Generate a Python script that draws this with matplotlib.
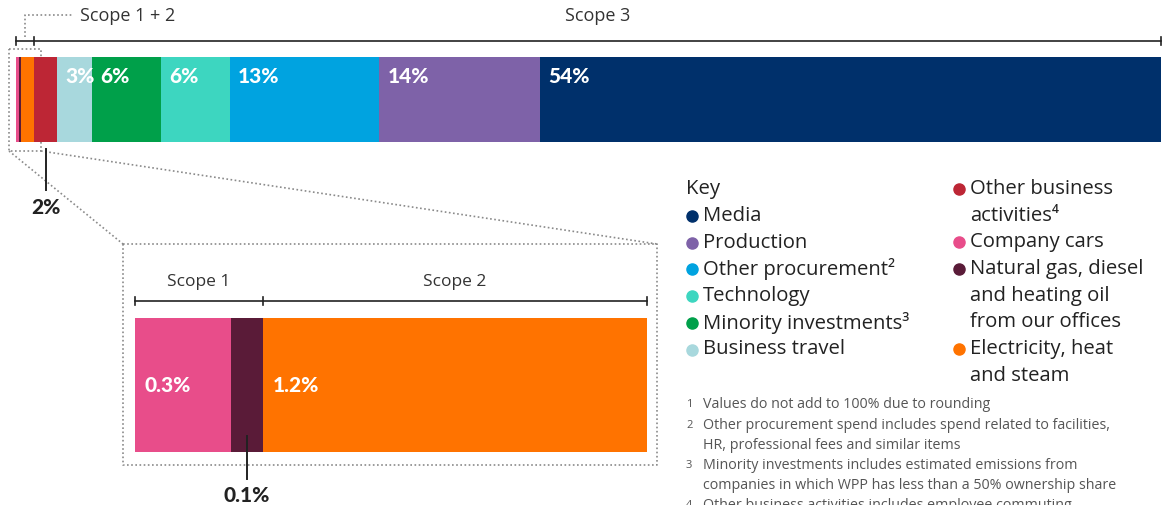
import matplotlib
matplotlib.use("Agg")
import matplotlib.pyplot as plt
import matplotlib.transforms as mtransforms
import numpy as np

plt.rcParams['font.family'] = ['Open Sans', 'DejaVu Sans']

# main bar, left to right
categories = ["Company cars", "Natural gas, diesel and heating oil from our offices",
              "Electricity, heat and steam", "Other business activities",
              "Business travel", "Minority investments", "Technology",
              "Other procurement", "Production", "Media"]
values = [0.3, 0.1, 1.2, 2, 3, 6, 6, 13, 14, 54]
labels = ["", "", "", "", "3%", "6%", "6%", "13%", "14%", "54%"]
colors = ["#E84D8A", "#5A1B38", "#FF7300", "#BD2635", "#A8D8DD",
          "#00A04A", "#3DD6C0", "#00A3E0", "#7E62A8", "#00306B"]

# zoomed scope 1 + 2 bar
zoom_cats = ["Company cars", "Natural gas", "Electricity"]
zoom_vals = [0.3, 0.1, 1.2]
zoom_labels = ["0.3%", "", "1.2%"]
zoom_colors = ["#E84D8A", "#5A1B38", "#FF7300"]

W, H = 1168, 506
fig = plt.figure(figsize=(W / 100, H / 100), dpi=100)
ink = "#222222"
dot = "#8a8a8a"
lab_font = dict(family=['Lato', 'DejaVu Sans'], fontweight="black", fontsize=15)

def px_axes(l, t, r, b):
    return fig.add_axes([l / W, 1 - b / H, (r - l) / W, (b - t) / H])

# ---- main bar
ax = px_axes(16, 58, 1161, 143)
lefts = np.concatenate([[0], np.cumsum(values)[:-1]])
ax.barh(0, values, left=lefts, color=colors, height=1, linewidth=0)
ax.set_xlim(0, sum(values))
ax.set_ylim(-0.5, 0.5)
ax.axis("off")
for l, lab in zip(lefts, labels):
    if lab:
        ax.annotate(lab, (l, 0.78), xycoords=("data", "axes fraction"),
                    xytext=(6, 0), textcoords="offset points",
                    color="white", va="center", **lab_font)

bt = mtransforms.blended_transform_factory(ax.transData, ax.transAxes)
s12 = sum(values[:3])
yb = 1.19
ax.plot([0, sum(values)], [yb, yb], color=ink, lw=1.2, transform=bt, clip_on=False)
for xv in [0, s12, sum(values)]:
    ax.plot([xv, xv], [yb - 0.05, yb + 0.05], color=ink, lw=1.2, transform=bt, clip_on=False)
ax.text(s12 + (sum(values) - s12) / 2, 1.49, "Scope 3", transform=bt,
        ha="center", va="center", fontsize=13, color="#333333")
# 2% callout
xm = lefts[3] + values[3] / 2
ax.plot([xm, xm], [-0.08, -0.56], color=ink, lw=1.4, transform=bt, clip_on=False)
ax.text(xm, -0.76, "2%", transform=bt, ha="center", va="center", color=ink, **lab_font)

# ---- zoom bar
az = px_axes(135, 319, 647, 453)
zl = np.concatenate([[0], np.cumsum(zoom_vals)[:-1]])
az.barh(0, zoom_vals, left=zl, color=zoom_colors, height=1, linewidth=0)
az.set_xlim(0, sum(zoom_vals))
az.set_ylim(-0.5, 0.5)
az.axis("off")
for l, lab in zip(zl, zoom_labels):
    if lab:
        az.annotate(lab, (l, 0.5), xycoords=("data", "axes fraction"),
                    xytext=(7, 0), textcoords="offset points",
                    color="white", va="center", **lab_font)
zt = mtransforms.blended_transform_factory(az.transData, az.transAxes)
s1 = sum(zoom_vals[:2])
yz = 1.125
az.plot([0, sum(zoom_vals)], [yz, yz], color=ink, lw=1.2, transform=zt, clip_on=False)
for xv in [0, s1, sum(zoom_vals)]:
    az.plot([xv, xv], [yz - 0.03, yz + 0.03], color=ink, lw=1.2, transform=zt, clip_on=False)
az.text(s1 / 2, 1.275, "Scope 1", transform=zt, ha="center", va="center",
        fontsize=12.5, color="#333333")
az.text(s1 + (sum(zoom_vals) - s1) / 2, 1.275, "Scope 2", transform=zt,
        ha="center", va="center", fontsize=12.5, color="#333333")
xm = zl[1] + zoom_vals[1] / 2
az.plot([xm, xm], [0.12, -0.2], color=ink, lw=1.4, transform=zt, clip_on=False)
az.text(xm, -0.32, "0.1%", transform=zt, ha="center", va="center", color=ink, **lab_font)

# ---- overlay in pixel space for dotted guides and key
ov = fig.add_axes([0, 0, 1, 1], zorder=-1)
ov.set_xlim(0, W)
ov.set_ylim(H, 0)
ov.axis("off")
dk = dict(color=dot, lw=1.2, ls=(0, (1, 1.5)))
ov.plot([9, 41, 41, 9, 9], [50, 50, 152, 152, 50], **dk)
ov.plot([9, 123], [152, 245], **dk)
ov.plot([41, 657], [152, 245], **dk)
ov.plot([123, 657, 657, 123, 123], [245, 245, 466, 466, 245], **dk)
ov.plot([25, 25, 72], [38, 16, 16], **dk)
ov.text(80, 16, "Scope 1 + 2", fontsize=13, color="#333333", va="center")

# key
key_fs = 14.6
step = 26.7
ov.text(686, 189, "Key", fontsize=key_fs, color=ink, va="center")
left_items = [("Media", colors[9]), ("Production", colors[8]),
              ("Other procurement²", colors[7]), ("Technology", colors[6]),
              ("Minority investments³", colors[5]), ("Business travel", colors[4])]
right_items = [(["Other business", "activities⁴"], colors[3]),
               (["Company cars"], colors[0]),
               (["Natural gas, diesel", "and heating oil", "from our offices"], colors[1]),
               (["Electricity, heat", "and steam"], colors[2])]
for i, (t, c) in enumerate(left_items):
    y = 216 + i * step
    ov.plot(692, y + 1, "o", ms=8, color=c)
    ov.text(703, y, t, fontsize=key_fs, color=ink, va="center")
y = 189
for lines, c in right_items:
    ov.plot(959, y + 1, "o", ms=8, color=c)
    for t in lines:
        ov.text(970, y, t, fontsize=key_fs, color=ink, va="center")
        y += step

notes = [("1", "Values do not add to 100% due to rounding"),
         ("2", "Other procurement spend includes spend related to facilities,"),
         ("", "HR, professional fees and similar items"),
         ("3", "Minority investments includes estimated emissions from"),
         ("", "companies in which WPP has less than a 50% ownership share"),
         ("4", "Other business activities includes employee commuting")]
for i, (n, t) in enumerate(notes):
    y = 405 + i * 20.1
    ov.text(686, y, n, fontsize=8, color="#555555", va="center")
    ov.text(703, y, t, fontsize=10.3, color="#555555", va="center")

fig.savefig("out.png", dpi=100)
